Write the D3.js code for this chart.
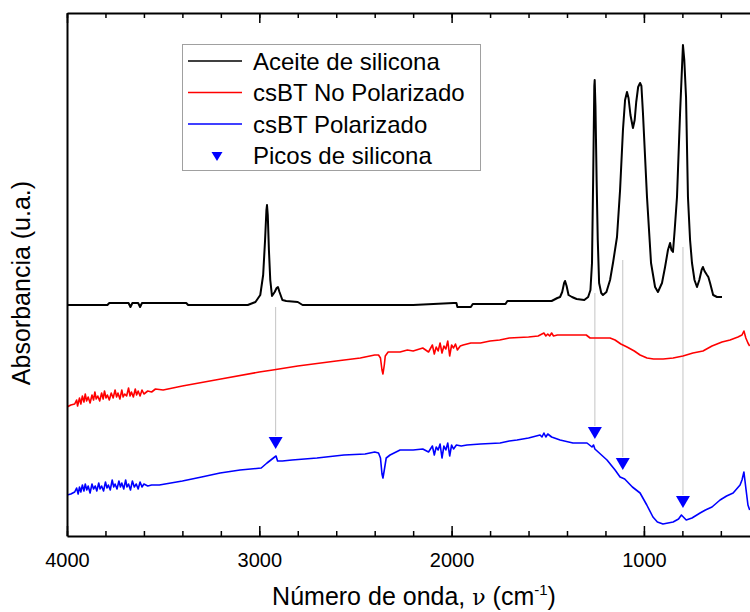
<!DOCTYPE html>
<html>
<head>
<meta charset="utf-8">
<script src="https://cdn.jsdelivr.net/npm/d3@7"></script>
<style>
  body { margin: 0; background: #fff; }
  svg { display: block; font-family: "Liberation Sans", Arial, sans-serif; }
</style>
</head>
<body>
<svg id="svg-area"></svg>
<script>
/* espectros FTIR: [número de onda (cm-1), absorbancia (u.a.)] */
let aceiteSilicona = [
  [4000,2.31],[3790,2.31],[3780,2.33],[3680,2.33],[3670,2.29],[3660,2.33],[3630,2.33],[3620,2.29],
  [3610,2.33],[3380,2.33],[3370,2.31],[3060,2.31],[3020,2.34],[2995,2.41],[2980,2.61],[2970,2.96],
  [2963,3.26],[2960,3.31],[2956,3.21],[2950,2.86],[2943,2.56],[2934,2.40],[2920,2.44],[2910,2.48],
  [2903,2.49],[2895,2.44],[2880,2.36],[2860,2.35],[2800,2.34],[2775,2.31],[2200,2.31],[1990,2.33],
  [1975,2.33],[1970,2.29],[1900,2.29],[1890,2.32],[1720,2.32],[1710,2.35],[1480,2.35],[1450,2.38],
  [1436,2.39],[1425,2.44],[1415,2.53],[1410,2.55],[1402,2.50],[1392,2.41],[1374,2.39],[1350,2.37],
  [1310,2.36],[1290,2.39],[1278,2.46],[1270,2.73],[1264,3.56],[1258,4.50],[1256,4.56],[1252,4.30],
  [1246,3.56],[1240,2.96],[1233,2.53],[1222,2.43],[1213,2.41],[1195,2.44],[1176,2.56],[1160,2.74],
  [1140,2.99],[1124,3.46],[1109,4.06],[1098,4.36],[1088,4.44],[1080,4.38],[1070,4.21],[1057,4.08],
  [1048,4.16],[1040,4.34],[1030,4.49],[1020,4.53],[1013,4.50],[1005,4.23],[984,3.39],[963,2.73],
  [942,2.49],[927,2.44],[906,2.53],[890,2.69],[875,2.86],[864,2.93],[857,2.86],[849,2.84],
  [840,3.06],[828,3.39],[812,4.23],[797,4.91],[790,4.76],[781,4.39],[771,3.39],[760,2.96],
  [750,2.73],[737,2.56],[724,2.49],[712,2.56],[700,2.66],[693,2.69],[685,2.65],[672,2.61],
  [665,2.59],[656,2.53],[640,2.41],[620,2.39],[594,2.39]
];

let csbtNoPolarizado = [
  [4000,1.29],[3980,1.31],[3960,1.32],[3950,1.36],[3945,1.30],[3935,1.38],[3928,1.32],[3920,1.40],
  [3912,1.34],[3905,1.42],[3898,1.35],[3890,1.39],[3880,1.33],[3870,1.41],[3862,1.36],[3855,1.44],
  [3848,1.37],[3840,1.40],[3830,1.35],[3820,1.43],[3812,1.37],[3805,1.45],[3797,1.38],[3790,1.41],
  [3780,1.36],[3770,1.43],[3760,1.38],[3750,1.46],[3742,1.39],[3735,1.43],[3725,1.37],[3715,1.46],
  [3708,1.39],[3700,1.42],[3690,1.40],[3680,1.48],[3672,1.40],[3665,1.44],[3655,1.39],[3645,1.47],
  [3638,1.41],[3630,1.45],[3620,1.40],[3610,1.46],[3600,1.42],[3580,1.45],[3560,1.44],[3540,1.47],
  [3500,1.46],[3400,1.50],[3200,1.57],[3000,1.64],[2930,1.66],[2800,1.70],[2600,1.75],[2475,1.78],
  [2400,1.81],[2380,1.81],[2370,1.78],[2362,1.66],[2357,1.62],[2350,1.71],[2345,1.80],[2330,1.84],
  [2268,1.84],[2230,1.86],[2200,1.85],[2150,1.88],[2120,1.84],[2100,1.91],[2090,1.82],[2080,1.89],
  [2070,1.85],[2060,1.93],[2050,1.83],[2040,1.90],[2030,1.87],[2020,1.95],[2010,1.80],[2000,1.91],
  [1990,1.88],[1980,1.92],[1970,1.86],[1955,1.90],[1940,1.91],[1900,1.93],[1850,1.93],[1800,1.95],
  [1750,1.96],[1700,1.98],[1600,1.99],[1550,2.00],[1520,2.03],[1510,2.00],[1500,2.02],[1490,2.00],
  [1480,2.03],[1470,2.00],[1450,2.01],[1300,2.01],[1280,1.98],[1176,1.98],[1150,1.96],[1120,1.92],
  [1088,1.89],[1050,1.85],[1020,1.81],[984,1.78],[950,1.77],[900,1.77],[848,1.78],[797,1.80],
  [745,1.83],[693,1.85],[646,1.90],[594,1.94],[552,1.96],[511,1.99],[490,2.01],[480,2.05],
  [470,1.98],[459,1.93],[450,1.90]
];

let csbtPolarizado = [
  [4000,0.41],[3980,0.42],[3960,0.44],[3950,0.48],[3942,0.42],[3935,0.49],[3928,0.44],[3920,0.51],
  [3912,0.45],[3905,0.52],[3897,0.46],[3890,0.50],[3880,0.43],[3870,0.52],[3862,0.47],[3853,0.50],
  [3845,0.45],[3835,0.53],[3828,0.47],[3820,0.50],[3810,0.45],[3800,0.54],[3792,0.48],[3785,0.51],
  [3775,0.46],[3765,0.56],[3757,0.49],[3750,0.52],[3740,0.47],[3730,0.55],[3722,0.49],[3715,0.53],
  [3705,0.47],[3695,0.56],[3688,0.49],[3680,0.52],[3670,0.46],[3660,0.55],[3650,0.49],[3640,0.52],
  [3630,0.47],[3620,0.54],[3610,0.49],[3600,0.52],[3580,0.50],[3560,0.51],[3520,0.51],[3400,0.55],
  [3300,0.59],[3204,0.63],[3100,0.66],[2990,0.68],[2960,0.73],[2940,0.76],[2920,0.79],[2913,0.80],
  [2905,0.75],[2880,0.75],[2830,0.76],[2700,0.78],[2560,0.81],[2450,0.82],[2400,0.84],[2380,0.83],
  [2370,0.78],[2362,0.62],[2357,0.58],[2350,0.66],[2340,0.78],[2320,0.81],[2268,0.86],[2200,0.86],
  [2150,0.87],[2120,0.84],[2100,0.90],[2090,0.81],[2080,0.89],[2070,0.86],[2060,0.92],[2050,0.78],
  [2040,0.90],[2030,0.86],[2020,0.93],[2010,0.80],[2000,0.91],[1990,0.87],[1975,0.91],[1950,0.90],
  [1920,0.91],[1850,0.92],[1748,0.93],[1700,0.95],[1660,0.96],[1600,0.98],[1560,1.00],[1540,1.01],
  [1530,0.99],[1520,1.03],[1510,0.99],[1500,1.02],[1480,0.99],[1436,0.96],[1369,0.93],[1296,0.93],
  [1270,0.89],[1262,0.91],[1255,0.87],[1192,0.76],[1150,0.66],[1124,0.59],[1100,0.57],[1060,0.49],
  [1020,0.43],[985,0.31],[953,0.19],[930,0.14],[901,0.12],[848,0.14],[820,0.17],[805,0.21],
  [795,0.19],[780,0.16],[750,0.18],[708,0.23],[680,0.26],[646,0.29],[604,0.36],[570,0.40],
  [536,0.43],[500,0.51],[490,0.56],[480,0.64],[470,0.48],[459,0.31],[450,0.26]
];

/* picos de silicona: posición, altura del marcador, inicio de la línea guía */
let picosOnda = [2915, 1255, 1110, 797];
let picosMarcador = [0.93, 1.03, 0.72, 0.34];
let picosLinea = [2.29, 2.43, 2.76, 2.89];

let ticksMayores = [4000, 3000, 2000, 1000];
let ticksMenores = d3.range(4000, 399, -200);

let series = [
  { name: "Aceite de silicona", data: aceiteSilicona, color: "#000000", w: 2 },
  { name: "csBT No Polarizado", data: csbtNoPolarizado, color: "#ff0000", w: 1.6 },
  { name: "csBT Polarizado", data: csbtPolarizado, color: "#0000ff", w: 1.6 },
];

let margin = { left: 67, top: 13, bottom: 76 };
let width = 750;
let height = 612;

let svg = d3.select("#svg-area")
  .attr("width", width)
  .attr("height", height);

let xScale = d3.scaleLinear()
  .domain([4000, 400])
  .range([margin.left, 759.3]);
let yScale = d3.scaleLinear()
  .domain([0, 5.23])
  .range([height - margin.bottom, margin.top]);

/* zona del gráfico */
svg.append("clipPath").attr("id", "clip")
  .append("rect")
  .attr("x", margin.left).attr("y", margin.top)
  .attr("width", 759.3 - margin.left)
  .attr("height", height - margin.bottom - margin.top);

let plot = svg.append("g").attr("clip-path", "url(#clip)");

/* líneas guía grises */
plot.selectAll(".guia")
  .data(picosOnda)
  .enter().append("line")
  .attr("x1", d => xScale(d)).attr("x2", d => xScale(d))
  .attr("y1", (d, i) => yScale(picosLinea[i]))
  .attr("y2", (d, i) => yScale(picosMarcador[i]) - 7)
  .attr("stroke", "#c4c4c4")
  .attr("stroke-width", 1);

let line = d3.line()
  .x(d => xScale(d[0]))
  .y(d => yScale(d[1]));

series.forEach(s => {
  plot.append("path")
    .datum(s.data)
    .attr("d", line)
    .attr("fill", "none")
    .attr("stroke", s.color)
    .attr("stroke-width", s.w)
    .attr("stroke-linejoin", "round");
});

let tri = "M-7,-6L7,-6L0,6Z";
plot.selectAll(".pico")
  .data(picosOnda)
  .enter().append("path")
  .attr("d", tri)
  .attr("transform", (d, i) => "translate(" + [xScale(d), yScale(picosMarcador[i])].join(",") + ")")
  .attr("fill", "#0000ff");

/* ejes */
let yBottom = height - margin.bottom;
svg.append("g")
  .attr("transform", "translate(0," + yBottom + ")")
  .call(d3.axisBottom(xScale).tickValues(ticksMenores).tickSize(-5).tickFormat(""))
  .call(g => g.select(".domain").remove());
let xAxis = svg.append("g")
  .attr("transform", "translate(0," + yBottom + ")")
  .call(d3.axisBottom(xScale).tickValues(ticksMayores).tickSize(-10).tickSizeOuter(0)
    .tickPadding(17).tickFormat(d3.format("d")));
svg.append("g")
  .attr("transform", "translate(0," + margin.top + ")")
  .call(d3.axisTop(xScale).tickValues(ticksMenores).tickSize(-5).tickFormat(""))
  .call(g => g.select(".domain").remove());
svg.append("g")
  .attr("transform", "translate(0," + margin.top + ")")
  .call(d3.axisTop(xScale).tickValues(ticksMayores).tickSize(-10).tickSizeOuter(0).tickFormat(""));
svg.append("g")
  .attr("transform", "translate(" + margin.left + ",0)")
  .call(d3.axisLeft(yScale).tickValues([]).tickSizeOuter(0));

svg.selectAll(".domain").attr("stroke-width", 2);
svg.selectAll(".tick line").attr("stroke-width", 1.5);
xAxis.selectAll(".tick text")
  .attr("font-size", 20)
  .attr("font-family", "Liberation Sans, Arial, sans-serif")
  .attr("fill", "#000");

/* títulos */
let xTitle = svg.append("text")
  .attr("x", 414).attr("y", 605)
  .attr("text-anchor", "middle")
  .attr("font-size", 25);
xTitle.append("tspan").text("Número de onda, ");
xTitle.append("tspan").attr("font-family", "DejaVu Serif, serif").attr("font-size", 22).text("ν");
xTitle.append("tspan").text(" (cm");
xTitle.append("tspan").attr("dy", -10).attr("font-size", 15).text("-1");
xTitle.append("tspan").attr("dy", 10).text(")");

svg.append("text")
  .attr("transform", "translate(21,283) rotate(-90)")
  .attr("text-anchor", "middle")
  .attr("dominant-baseline", "central")
  .attr("font-size", 25)
  .text("Absorbancia (u.a.)");

/* leyenda */
let legend = svg.append("g");
legend.append("rect")
  .attr("x", 182.5).attr("y", 44.5)
  .attr("width", 298).attr("height", 126)
  .attr("fill", "#fff")
  .attr("stroke", "#a0a0a0")
  .attr("stroke-width", 1);

let filas = [61, 92.5, 124, 155.5];
let items = series.map(s => ({ name: s.name, color: s.color, tipo: "linea" }))
  .concat([{ name: "Picos de silicona", color: "#0000ff", tipo: "marca" }]);

items.forEach((it, i) => {
  let y = filas[i];
  if (it.tipo === "linea") {
    legend.append("line")
      .attr("x1", 188).attr("x2", 242)
      .attr("y1", y).attr("y2", y)
      .attr("stroke", it.color).attr("stroke-width", 1.6);
  } else {
    legend.append("path")
      .attr("d", "M-5.5,-4.5L5.5,-4.5L0,4.5Z")
      .attr("transform", "translate(217," + (y + 1) + ")")
      .attr("fill", it.color);
  }
  legend.append("text")
    .attr("x", 253).attr("y", y)
    .attr("dominant-baseline", "central")
    .attr("font-size", 24)
    .text(it.name);
});
</script>
</body>
</html>
